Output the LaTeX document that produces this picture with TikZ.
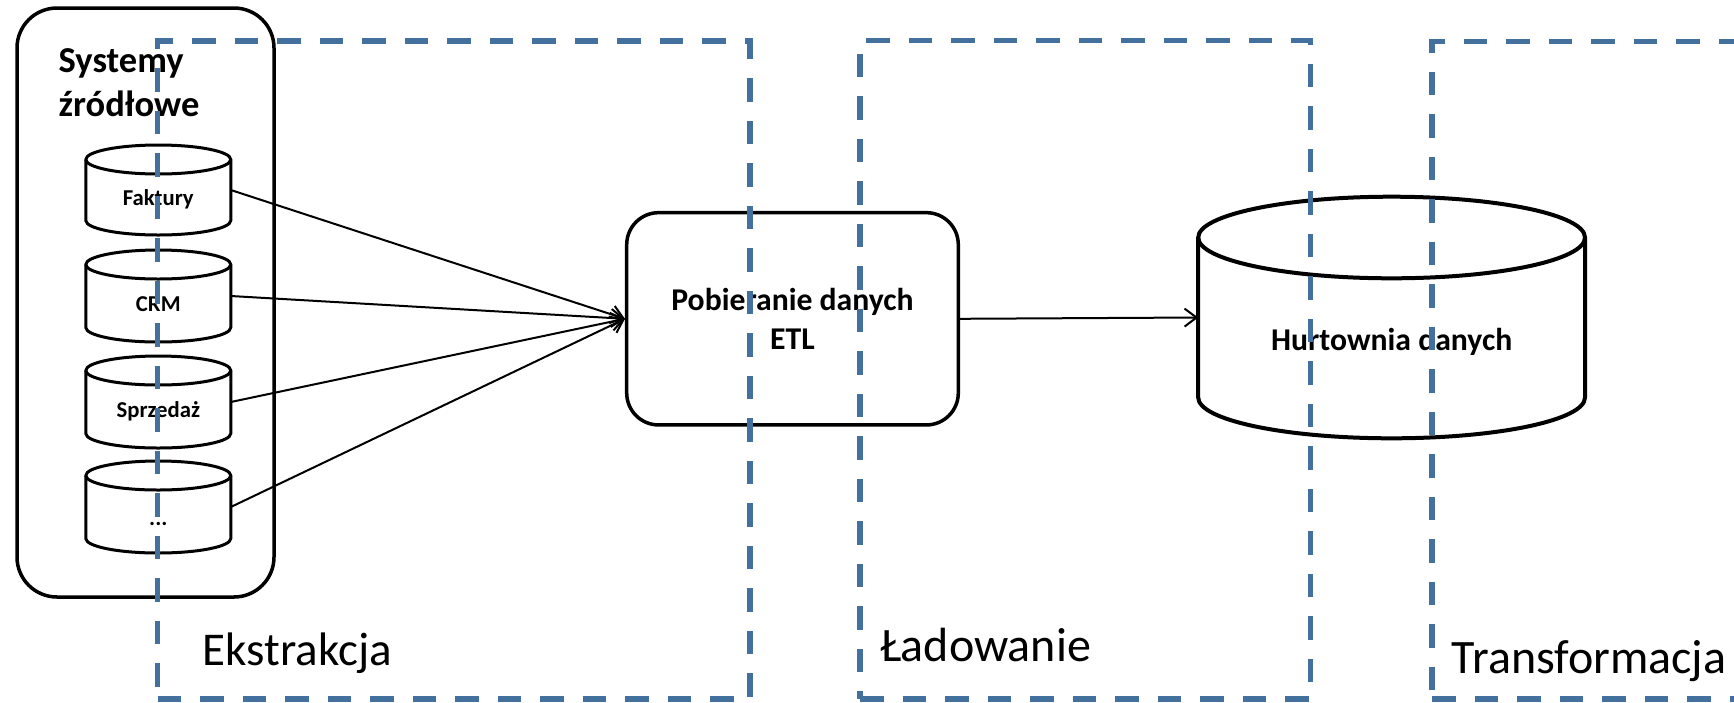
\documentclass[tikz,border=0pt]{standalone}
\usepackage{fontspec}
\setmainfont{Carlito}
\usetikzlibrary{arrows.meta}
\definecolor{dashblue}{RGB}{67,112,157}

\newcommand\dbcyl[7]{%
 \pgfmathsetmacro\cyL{#2-#5}\pgfmathsetmacro\cyR{#2+#5}%
 \pgfmathsetmacro\cyA{#3+#6}\pgfmathsetmacro\cyB{#4-#6}%
 \pgfmathsetmacro\cyKx{0.5523*#5}\pgfmathsetmacro\cyKy{0.5523*#6}%
 \pgfmathsetmacro\cyF{#3+2*#6}%
 \draw[line width=#7, fill=white] (\cyL,\cyA) -- (\cyL,\cyB)
   .. controls (\cyL,\cyB+\cyKy) and (#2-\cyKx,#4) .. (#2,#4)
   .. controls (#2+\cyKx,#4) and (\cyR,\cyB+\cyKy) .. (\cyR,\cyB)
   -- (\cyR,\cyA)
   .. controls (\cyR,\cyA-\cyKy) and (#2+\cyKx,#3) .. (#2,#3)
   .. controls (#2-\cyKx,#3) and (\cyL,\cyA-\cyKy) .. (\cyL,\cyA) -- cycle;
 \draw[line width=#7] (\cyL,\cyA)
   .. controls (\cyL,\cyA+\cyKy) and (#2-\cyKx,\cyF) .. (#2,\cyF)
   .. controls (#2+\cyKx,\cyF) and (\cyR,\cyA+\cyKy) .. (\cyR,\cyA);
 \node[inner sep=0pt, outer sep=0pt, minimum width={2*#5}, minimum height={#4-#3}] (#1) at (#2,{(#3+#4)/2}) {};
}

\begin{document}
\begin{tikzpicture}[x=1pt,y=-1pt,
  blk/.style={draw=black, line width=3.5pt},
  stage/.style={draw=dashblue, line width=5.5pt, dash pattern=on 23.5pt off 19pt},
  conn/.style={draw=black, line width=2pt, -{Straight Barb[length=12pt,width=18pt]}},
  dblabel/.style={anchor=base, inner sep=0pt, font=\bfseries\fontsize{22.7}{27}\selectfont},
  stagelabel/.style={anchor=base west, inner sep=0pt, font=\fontsize{47}{56}\selectfont},
  bigtitle/.style={anchor=base west, inner sep=0pt, font=\bfseries\fontsize{36.5}{43}\selectfont}
]
\useasboundingbox (0,0) rectangle (1734,702);

% source systems container
\node[blk, rounded corners=40pt, minimum width=257pt, minimum height=589pt, inner sep=0pt, fill=white] (src) at (145.5,302.5) {};
\node[bigtitle] (sys1) at (58.5,72.7) {Systemy};
\node[bigtitle] (sys2) at (58.5,116) {źródłowe};

% source databases
\dbcyl{fak}{158.3}{145}{235}{72.5}{14.5}{3pt}
\dbcyl{crm}{158.3}{250}{342}{72.5}{14.5}{3pt}
\dbcyl{spr}{158.3}{356}{448}{72.5}{14.5}{3pt}
\dbcyl{etc}{158.3}{461}{553}{72.5}{14.5}{3pt}
\node[dblabel] (fakl) at (158.3,205.7) {Faktury};
\node[dblabel] (crml) at (158.3,311.3) {CRM};
\node[dblabel] (sprl) at (158.3,417.3) {Sprzedaż};
\node[dblabel] (etcl) at (158.3,525) {...};

% ETL process
\node[blk, rounded corners=32pt, minimum width=331.6pt, minimum height=212.3pt, inner sep=0pt, fill=white,
      align=center, font=\bfseries\fontsize{31.7}{39.7}\selectfont] (etl) at (792.5,318.8) {Pobieranie danych\\ETL};

% data warehouse
\dbcyl{hd}{1391.6}{196.7}{438.3}{193.4}{40.8}{4pt}
\node[anchor=base, inner sep=0pt, font=\bfseries\fontsize{31.7}{37}\selectfont] (hdl) at (1391.6,350) {Hurtownia danych};

% connectors
\draw[conn] (fak.east) -- (etl.west);
\draw[conn] (crm.east) -- (etl.west);
\draw[conn] (spr.east) -- (etl.west);
\draw[conn] (etc.east) -- (etl.west);
\draw[conn] (etl.east) -- (hd.west);

% stages
\begin{scope}
\clip (0,0) rectangle (1734,702);
\node[stage, minimum width=592.5pt, minimum height=658pt, inner sep=0pt] (ext) at (453.75,370) {};
\node[stage, minimum width=450.5pt, minimum height=658.5pt, inner sep=0pt] (lad) at (1085.25,369.75) {};
\node[stage, minimum width=400pt, minimum height=657.5pt, inner sep=0pt] (tra) at (1632,370.25) {};
\end{scope}
\node[stagelabel] (extl) at (202.7,665) {Ekstrakcja};
\node[stagelabel, font=\fontsize{48}{56}\selectfont] (ladl) at (880,661.7) {Ładowanie};
\node[stagelabel, font=\fontsize{48}{56}\selectfont] (tral) at (1451.7,673.3) {Transformacja};
\end{tikzpicture}
\end{document}
